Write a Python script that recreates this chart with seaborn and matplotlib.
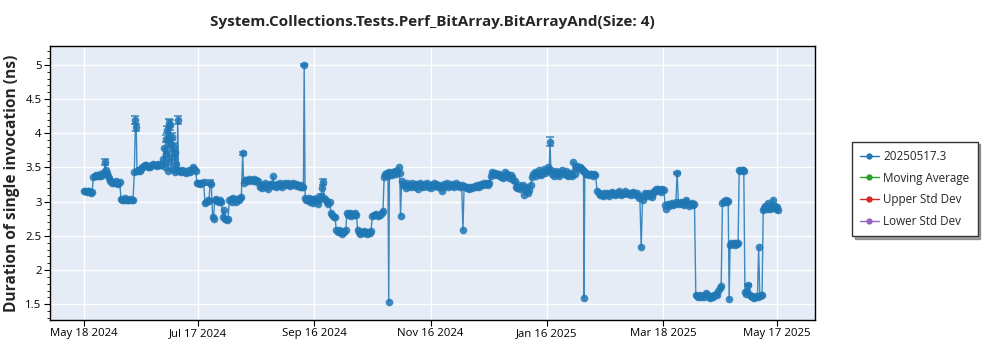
import matplotlib
matplotlib.use("Agg")
import matplotlib.pyplot as plt
import matplotlib.dates as mdates
from matplotlib.lines import Line2D
from matplotlib.ticker import MultipleLocator, FuncFormatter
import numpy as np
import pandas as pd
import seaborn as sns

# ---------------- data ----------------
start_date = "2024-05-18"
series_name = "20250517.3"
legend_labels = [series_name, "Moving Average", "Upper Std Dev", "Lower Std Dev"]
legend_colors = ["#1f77b4", "#2ca02c", "#d62728", "#9467bd"]

days = [
    0, 0.7, 1.4, 2.1, 2.8, 3.5, 4.2,
    4.9, 5.6, 6.3, 7.0, 7.7, 8.4, 9.1, 9.8, 10.5, 11.0, 11.5, 12.0, 12.6, 13.2,
    13.8, 14.5, 15.2, 15.9, 16.6, 17.3, 18.0, 18.7,
    19.4, 20.1, 20.8, 21.5, 22.2, 22.9, 23.6, 24.3, 25.0, 25.7,
    26.4, 27.0, 27.4, 27.8,
    28.5, 29.2, 29.9, 30.6, 31.3, 32.0, 32.7, 33.4, 34.1, 34.8, 35.5, 36.2, 36.9, 37.6, 38.3, 39.0, 39.7, 40.4, 41.1,
    41.6, 42.0, 42.4, 42.8, 43.2, 43.6, 44.0, 44.4, 44.8, 45.2, 45.6, 46.0, 46.4, 46.8, 47.2, 47.6, 48.0, 48.4, 48.8, 49.2, 49.6,
    50.2, 50.9, 51.6, 52.3, 53.0, 53.7, 54.4, 55.1, 55.8, 56.5, 57.2, 57.9, 58.6,
    59.3, 60.0, 60.7, 61.4, 62.1, 62.8,
    63.5, 64.2, 64.9, 65.6, 66.2, 66.8, 67.5, 68.0, 68.6, 69.3, 70.0, 70.7, 71.4, 72.1, 72.8, 73.5, 74.2, 74.9, 75.6, 76.3,
    77.0, 77.7, 78.4, 79.1, 79.8, 80.5, 81.2, 81.9, 82.6,
    83.3, 83.8, 84.5, 85.2, 85.9, 86.6, 87.3, 88.0, 88.7, 89.4, 90.1, 90.8, 91.5, 92.2, 92.9, 93.6, 94.3, 95.0, 95.7, 96.4,
    97.1, 97.8, 98.5, 99.2, 99.9, 100.6, 101.3, 102.0, 102.7, 103.4, 104.1, 104.8, 105.5, 106.2, 106.9, 107.6, 108.3, 109.0,
    109.7, 110.4, 111.1, 111.8, 112.5, 113.2, 113.9, 114.6, 115.2,
    115.6, 116.1, 116.8, 117.5, 118.2, 118.9, 119.6, 120.3, 121.0, 121.7, 122.4, 123.1, 123.8, 124.5, 125.0, 125.5, 126.2,
    126.9, 127.6, 128.3, 129.0,
    129.7, 130.4, 131.1, 131.8, 132.5, 133.2, 133.9, 134.6, 135.3, 136.0, 136.7, 137.4, 138.1, 138.8, 139.5, 140.2, 140.9,
    141.6, 142.3, 143.0, 143.7, 144.4, 145.1, 145.8, 146.5, 147.2, 147.9, 148.6, 149.3, 150.0, 150.7, 151.4, 152.1, 152.8,
    153.5, 154.2, 154.9, 155.6, 156.3, 157.0,
    157.6, 158.3, 159.0, 159.6, 160.0, 160.4, 161.1, 161.8, 162.5, 163.2, 163.9, 164.6, 165.3, 165.8, 166.2,
    166.8, 167.5, 168.2, 168.9, 169.6, 170.3, 171.0, 171.7, 172.4, 173.1, 173.8, 174.5, 175.2, 175.9, 176.6, 177.3, 178.0,
    178.7, 179.4, 180.1, 180.8, 181.5, 182.2, 182.9, 183.6, 184.3, 185.0, 185.7, 186.4, 187.1, 187.8, 188.5, 189.2, 189.9,
    190.6, 191.3, 192.0, 192.7, 193.4, 194.1, 194.8, 195.5, 196.2, 196.9, 197.6, 198.3, 199.0, 199.6, 200.3, 201.0, 201.7,
    202.4, 203.1, 203.8, 204.5, 205.2, 205.9, 206.6, 207.3, 208.0, 208.7, 209.4, 210.1, 210.8, 211.5, 212.2,
    212.9, 213.6, 214.3, 215.0, 215.7, 216.4, 217.1, 217.8, 218.5, 219.2, 219.9, 220.6, 221.3, 222.0, 222.7, 223.4, 224.1,
    224.8, 225.5, 226.2, 226.9, 227.6, 228.3, 229.0, 229.7, 230.4, 231.1, 231.8, 232.5, 233.2, 233.9, 234.6,
    235.3, 236.0, 236.7, 237.4, 238.1, 238.8, 239.5, 240.2, 240.9, 241.6, 242.3, 243.0, 243.7, 244.3, 244.7, 245.2, 245.9,
    246.6, 247.3, 248.0, 248.7, 249.4, 250.1, 250.8, 251.5, 252.2, 252.9, 253.6, 254.3, 255.0, 255.7, 256.4, 257.0, 257.6,
    258.3, 259.0, 259.7, 260.4, 261.1, 261.8, 262.3, 262.6, 263.0,
    263.7, 264.4, 265.1, 265.8, 266.5, 267.2, 267.9, 268.6,
    269.5, 270.2, 270.9, 271.6, 272.3, 273.0, 273.7, 274.4, 275.1, 275.8, 276.5, 277.2, 277.9, 278.6, 279.3, 280.0, 280.7,
    281.4, 282.1, 282.8, 283.5, 284.2, 284.9, 285.6, 286.3, 287.0, 287.7, 288.4, 289.1, 289.8, 290.5, 291.2, 291.9, 292.6,
    293.3, 294.0, 294.7, 295.4, 296.1, 296.8, 297.5, 298.2, 298.9, 299.6, 300.3, 301.0, 301.7, 302.4, 303.1, 303.8, 304.5,
    305.2, 305.9, 306.6, 307.3, 308.0, 308.7, 309.4, 310.1, 310.8, 311.5, 312.2, 312.9, 313.6, 314.3, 315.0, 315.7, 316.4,
    317.1, 317.8, 318.5, 319.2, 319.9, 320.6,
    321.3, 322.0, 322.7, 323.4, 324.1, 324.8, 325.5, 326.2, 326.9, 327.6, 328.3, 329.0, 329.7, 330.4, 331.1, 331.8, 332.5,
    333.2, 333.9, 334.6,
    335.3, 335.9, 336.5, 337.1, 337.7, 338.3, 338.8,
    339.3, 339.9, 340.5, 341.1, 341.7, 342.3, 342.9, 343.5,
    344.1, 344.7, 345.3, 345.9, 346.5,
    347.1, 347.7, 348.3, 348.9, 349.5, 350.1, 350.7, 351.3, 351.9, 352.5, 353.1, 353.7, 354.3, 354.9, 355.5, 356.1,
    356.7, 357.3, 357.9, 358.5, 359.1, 359.7, 360.3, 360.9, 361.5, 362.1, 362.7, 363.3, 363.9, 364.5,
]

values = [
    3.15, 3.16, 3.14, 3.15, 3.16, 3.13, 3.14,
    3.36, 3.38, 3.39, 3.37, 3.38, 3.40, 3.38, 3.41, 3.44, 3.58, 3.46, 3.42, 3.38, 3.34,
    3.30, 3.28, 3.29, 3.27, 3.30, 3.28, 3.26, 3.29,
    3.04, 3.02, 3.03, 3.05, 3.02, 3.03, 3.02, 3.04, 3.03, 3.02,
    3.44, 4.19, 4.09, 3.45,
    3.46, 3.45, 3.48, 3.50, 3.52, 3.54, 3.53, 3.51, 3.52, 3.50, 3.53, 3.55, 3.53, 3.54, 3.52, 3.55, 3.54, 3.53, 3.55,
    3.62, 3.78, 3.50, 3.92, 3.70, 4.05, 3.45, 4.15, 3.58, 4.12, 3.85, 3.48, 3.95, 3.66, 3.80, 3.44, 3.72, 3.55, 3.46, 4.19, 3.45,
    3.45, 3.44, 3.46, 3.43, 3.45, 3.42, 3.44, 3.46, 3.43, 3.47, 3.50, 3.48, 3.45,
    3.28, 3.27, 3.26, 3.28, 3.27, 3.29,
    2.98, 3.00, 3.02, 3.01, 3.28, 3.26, 2.77, 2.75, 3.02, 3.04, 3.01, 2.99, 3.02, 3.00, 2.78, 2.88, 2.75, 2.73, 2.74, 3.02,
    3.04, 3.00, 3.05, 3.03, 2.99, 3.04, 3.02, 3.05, 3.07,
    3.71, 3.28, 3.31, 3.32, 3.30, 3.33, 3.31, 3.32, 3.30, 3.33, 3.31, 3.29, 3.30, 3.22, 3.25, 3.20, 3.24, 3.27, 3.22, 3.19,
    3.24, 3.26, 3.23, 3.37, 3.24, 3.21, 3.26, 3.23, 3.27, 3.25, 3.22, 3.26, 3.28, 3.24, 3.27, 3.25, 3.23, 3.26,
    3.28, 3.24, 3.26, 3.23, 3.25, 3.22, 3.24, 3.21, 3.22,
    5.00, 3.06, 3.03, 3.02, 3.05, 3.00, 3.04, 2.98, 3.03, 3.06, 3.01, 2.97, 3.04, 3.08, 3.20, 3.29, 3.05,
    3.02, 3.00, 2.97, 2.99,
    2.84, 2.80, 2.78, 2.77, 2.58, 2.55, 2.59, 2.56, 2.53, 2.57, 2.55, 2.59, 2.83, 2.80, 2.84, 2.79, 2.82,
    2.80, 2.83, 2.81, 2.58, 2.55, 2.53, 2.56, 2.54, 2.57, 2.55, 2.53, 2.56, 2.54, 2.57, 2.79, 2.81, 2.80,
    2.82, 2.79, 2.81, 2.80, 2.83, 2.87,
    3.36, 3.40, 3.42, 3.38, 1.53, 3.44, 3.41, 3.39, 3.43, 3.45, 3.40, 3.44, 3.50, 3.42, 2.79,
    3.30, 3.24, 3.26, 3.20, 3.27, 3.23, 3.25, 3.21, 3.28, 3.24, 3.22, 3.26, 3.19, 3.25, 3.27, 3.23, 3.21,
    3.26, 3.24, 3.28, 3.22, 3.25, 3.20, 3.24, 3.27, 3.23, 3.26, 3.21, 3.25, 3.23, 3.15, 3.22, 3.26, 3.24,
    3.27, 3.22, 3.25, 3.23, 3.26, 3.21, 3.24, 3.27, 3.23, 3.25, 3.22, 3.24, 2.58, 3.23, 3.21, 3.20, 3.22,
    3.19, 3.21, 3.20, 3.22, 3.23, 3.21, 3.24, 3.22, 3.25, 3.26, 3.24, 3.27, 3.26, 3.28, 3.24,
    3.27, 3.38, 3.44, 3.40, 3.42, 3.39, 3.41, 3.40, 3.38, 3.36, 3.35, 3.37, 3.43, 3.40, 3.38, 3.34, 3.39,
    3.36, 3.32, 3.30, 3.22, 3.20, 3.25, 3.18, 3.22, 3.24, 3.10, 3.19, 3.21, 3.13, 3.17, 3.24,
    3.36, 3.40, 3.44, 3.38, 3.42, 3.46, 3.41, 3.39, 3.44, 3.48, 3.42, 3.45, 3.50, 3.47, 3.88, 3.46, 3.40,
    3.37, 3.42, 3.45, 3.40, 3.38, 3.43, 3.47, 3.44, 3.41, 3.45, 3.39, 3.37, 3.42, 3.40, 3.38, 3.58, 3.41,
    3.50, 3.52, 3.48, 3.51, 3.49, 3.47, 3.45, 1.59, 3.44,
    3.41, 3.40, 3.39, 3.41, 3.40, 3.38, 3.40, 3.39,
    3.15, 3.12, 3.10, 3.11, 3.09, 3.12, 3.10, 3.13, 3.11, 3.09, 3.12, 3.14, 3.11, 3.10, 3.13, 3.11, 3.15,
    3.12, 3.10, 3.11, 3.13, 3.15, 3.12, 3.11, 3.13, 3.10, 3.12, 3.14, 3.11, 3.10, 3.12, 3.05, 3.08, 2.34,
    3.02, 3.09, 3.13, 3.11, 3.08, 3.12, 3.10, 3.07, 3.13, 3.15, 3.18, 3.16, 3.19, 3.17, 3.14, 3.18, 3.17,
    2.95, 2.90, 2.97, 2.93, 2.96, 2.98, 2.95, 2.97, 2.99, 3.42, 2.96, 2.98, 3.00, 2.97, 2.95, 2.99, 3.03,
    2.97, 2.94, 2.96, 2.98, 2.95, 2.96,
    1.64, 1.62, 1.60, 1.63, 1.61, 1.62, 1.60, 1.64, 1.66, 1.63, 1.61, 1.59, 1.62, 1.60, 1.63, 1.65, 1.64,
    1.70, 1.74, 1.76,
    2.98, 3.01, 3.00, 3.02, 2.99, 3.01, 1.57,
    2.36, 2.40, 2.38, 2.39, 2.37, 2.40, 2.38, 2.39,
    3.46, 3.45, 3.47, 3.46, 3.45,
    1.68, 1.65, 1.70, 1.78, 1.64, 1.62, 1.60, 1.61, 1.59, 1.60, 1.62, 1.61, 2.34, 1.62, 1.64, 1.63,
    2.88, 2.91, 2.93, 2.90, 2.98, 2.92, 2.89, 2.93, 2.91, 3.03, 2.94, 2.90, 2.92, 2.88,
]

# points with visible error bars (day offset -> half-width)
err_days = [11.0, 27.0, 27.4, 42.8, 43.6, 44.4, 45.2, 46.4, 47.2, 49.2, 66.2, 83.3, 115.6, 124.5, 125.5, 244.7, 311.5, 348.9]
err_sizes = [0.05, 0.06, 0.05, 0.05, 0.05, 0.06, 0.07, 0.05, 0.06, 0.06, 0.03, 0.02, 0.02, 0.03, 0.04, 0.06, 0.02, 0.02]

tick_dates = ["2024-05-18", "2024-07-17", "2024-09-16", "2024-11-16", "2025-01-16", "2025-03-18", "2025-05-17"]
y_ticks = [1.5, 2, 2.5, 3, 3.5, 4, 4.5, 5]

title = "System.Collections.Tests.Perf_BitArray.BitArrayAnd(Size: 4)"
ylabel = "Duration of single invocation (ns)"

assert len(days) == len(values), (len(days), len(values))

# ---------------- build ----------------
start = pd.Timestamp(start_date)
df = pd.DataFrame({
    "date": start + pd.to_timedelta(days, unit="D"),
    "value": values,
})
val_map = dict(zip(days, values))
edf = pd.DataFrame({
    "date": start + pd.to_timedelta(err_days, unit="D"),
    "value": [val_map[d] for d in err_days],
    "err": err_sizes,
})

sns.set_theme(style="darkgrid")
plt.rcParams["font.family"] = ["Open Sans", "DejaVu Sans"]

fig = plt.figure(figsize=(10, 3.5), dpi=100)
ax = fig.add_axes([0.05, 0.086, 0.765, 0.783])
ax.set_facecolor("#e5ecf6")
ax.grid(True, color="white", linewidth=1.0)

blue = legend_colors[0]
ax.errorbar(edf["date"], edf["value"], yerr=edf["err"], fmt="none", ecolor=blue,
            elinewidth=1.0, capsize=3, capthick=1.2, alpha=0.8, zorder=3)
sns.lineplot(data=df, x="date", y="value", ax=ax, estimator=None, sort=False,
             color=blue, linewidth=1.0, alpha=0.85, marker="o", markersize=5.5,
             markeredgewidth=0, legend=False, zorder=4)

ax.set_xlim(start + pd.Timedelta(days=-17.9), start + pd.Timedelta(days=383.9))
ax.set_ylim(1.27, 5.28)
ax.set_xticks(pd.to_datetime(tick_dates))
ax.xaxis.set_major_formatter(mdates.DateFormatter("%b %d %Y"))
ax.set_yticks(y_ticks)
ax.yaxis.set_major_formatter(FuncFormatter(lambda v, p: f"{v:g}"))
ax.yaxis.set_minor_locator(MultipleLocator(0.1))
ax.tick_params(axis="both", which="major", labelsize=8.2, length=4, width=0.8,
               colors="black", direction="out", bottom=True, left=True, pad=2)
ax.tick_params(axis="y", which="minor", length=2, width=0.6, left=True, colors="black")
ax.grid(False, which="minor")

for s in ax.spines.values():
    s.set_visible(True)
    s.set_color("black")
    s.set_linewidth(1.0)

ax.set_xlabel("")
ax.set_ylabel(ylabel, fontsize=11.2, fontweight="bold", labelpad=4)
ax.set_title(title, fontsize=11, fontweight="bold", pad=14)

handles = [Line2D([0], [0], color=c, linewidth=1.0, marker="o", markersize=3.5) for c in legend_colors]
leg = fig.legend(handles, legend_labels, loc="upper left", bbox_to_anchor=(0.846, 0.612),
                 frameon=True, fancybox=False, shadow=True, fontsize=8.4,
                 handlelength=1.6, borderpad=0.7, labelspacing=0.75, handletextpad=0.4)
leg.get_frame().set_edgecolor("#333333")
leg.get_frame().set_facecolor("white")
leg.get_frame().set_linewidth(1.0)

fig.savefig("out.png", dpi=100)
